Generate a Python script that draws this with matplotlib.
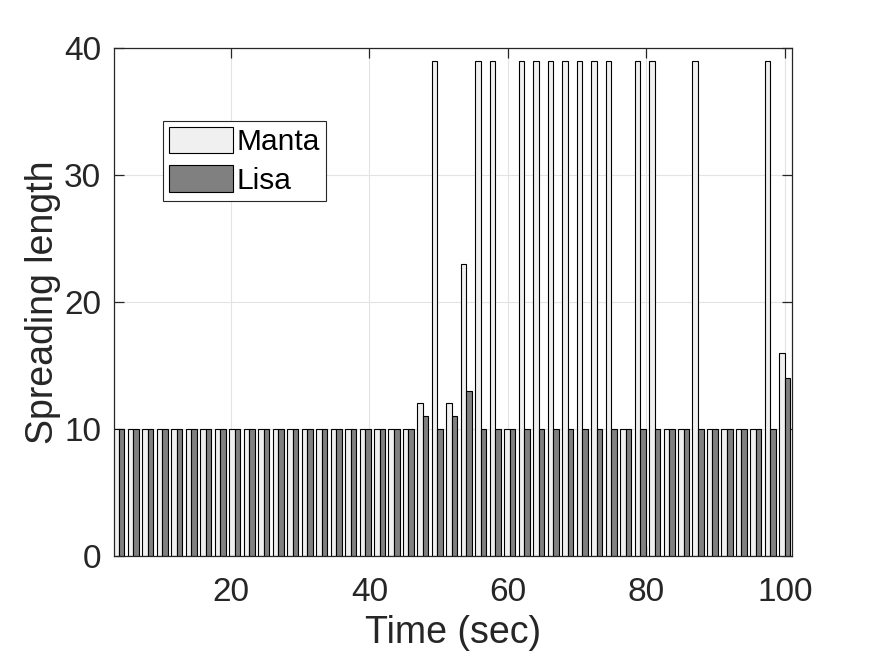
import matplotlib
matplotlib.use("Agg")
import matplotlib.pyplot as plt
import numpy as np

plt.rcParams["font.family"] = ["Liberation Sans", "DejaVu Sans"]

# time stamps (sec), one group of bars each
time_sec = [3.85, 5.94, 8.03, 10.12, 12.21, 14.30, 16.39, 18.48, 20.57, 22.66,
            24.75, 26.84, 28.93, 31.02, 33.11, 35.20, 37.29, 39.38, 41.47, 43.56,
            45.65, 47.74, 49.83, 51.92, 54.01, 56.10, 58.19, 60.28, 62.37, 64.46,
            66.55, 68.64, 70.73, 72.82, 74.91, 77.00, 79.09, 81.18, 83.27, 85.36,
            87.45, 89.54, 91.63, 93.72, 95.81, 97.90, 99.95]

manta = [10, 10, 10, 10, 10, 10, 10, 10, 10, 10,
         10, 10, 10, 10, 10, 10, 10, 10, 10, 10,
         10, 12, 39, 12, 23, 39, 39, 10, 39, 39,
         39, 39, 39, 39, 39, 10, 39, 39, 10, 10,
         39, 10, 10, 10, 10, 39, 16]

lisa = [10, 10, 10, 10, 10, 10, 10, 10, 10, 10,
        10, 10, 10, 10, 10, 10, 10, 10, 10, 10,
        10, 11, 10, 11, 13, 10, 10, 10, 10, 10,
        10, 10, 10, 10, 10, 10, 10, 10, 10, 10,
        10, 10, 10, 10, 10, 10, 14]

TXT = "#262626"
C_MANTA = "#f0f0f0"
C_LISA = "#808080"

fig = plt.figure(figsize=(8.75, 6.57), dpi=100)
ax = fig.add_axes([0.130, 0.154, 0.775, 0.773])

x = np.array(time_sec)
w = 0.8
ax.bar(x - w / 2, manta, width=w, color=C_MANTA, edgecolor="black",
       linewidth=0.8, label="Manta", zorder=2)
ax.bar(x + w / 2, lisa, width=w, color=C_LISA, edgecolor="black",
       linewidth=0.8, label="Lisa", zorder=2)

ax.set_xlim(3.1, 101)
ax.set_ylim(0, 40)
ax.set_xticks([20, 40, 60, 80, 100])
ax.set_yticks([0, 10, 20, 30, 40])

ax.grid(True, color="#e3e3e3", linewidth=0.8, zorder=0)
ax.set_axisbelow(True)
for sp in ax.spines.values():
    sp.set_color(TXT)
    sp.set_linewidth(0.9)
ax.tick_params(direction="in", length=7, width=0.9, colors=TXT,
               labelsize=24, top=True, right=True)
ax.tick_params(axis="x", pad=15)
ax.tick_params(axis="y", pad=9)

ax.set_xlabel("Time (sec)", fontsize=27, color=TXT, labelpad=5)
ax.set_ylabel("Spreading length", fontsize=27, color=TXT, labelpad=2)

leg = ax.legend(loc="upper left", bbox_to_anchor=(0.072, 0.857),
                fontsize=21.5, frameon=True, fancybox=False, framealpha=1,
                edgecolor=TXT, handlelength=2.15, handleheight=1.0,
                handletextpad=0.12, borderpad=0.2, labelspacing=0.3,
                borderaxespad=0)
leg.get_frame().set_linewidth(0.8)

fig.savefig("out.png", dpi=100, facecolor="white")
